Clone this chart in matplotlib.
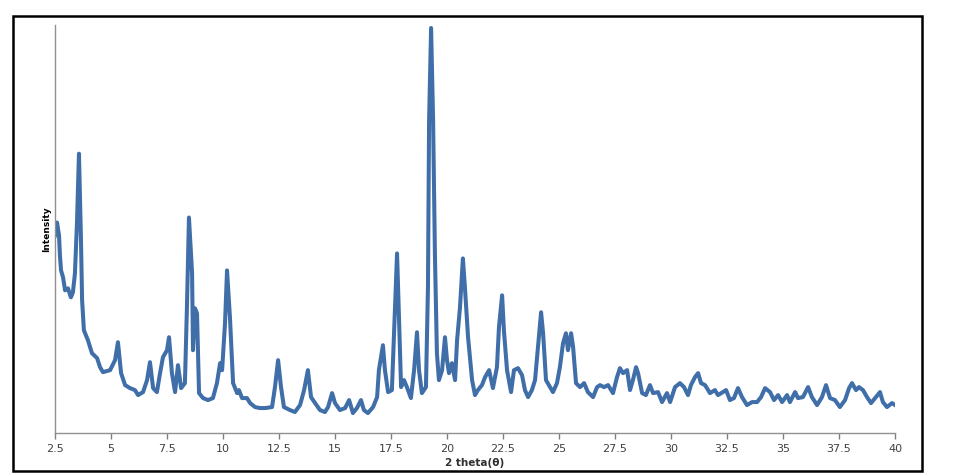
import numpy as np
import matplotlib.pyplot as plt
from matplotlib.patches import Rectangle

two_theta = [2.50, 2.59, 2.68, 2.72, 2.77, 2.86, 2.95, 3.08, 3.21, 3.30, 3.39, 3.48, 3.57, 3.66, 3.71,
             3.79, 3.97, 4.15, 4.38, 4.51, 4.64, 4.96, 5.18, 5.31, 5.45, 5.63, 5.85, 6.07, 6.21, 6.43,
             6.61, 6.74, 6.88, 7.05, 7.19, 7.32, 7.50, 7.59, 7.72, 7.86, 7.99, 8.13, 8.30, 8.39, 8.48,
             8.62, 8.66, 8.75, 8.84, 8.93, 9.11, 9.33, 9.55, 9.73, 9.87, 9.96, 10.09, 10.18, 10.31,
             10.45, 10.63, 10.71, 10.85, 11.07, 11.21, 11.43, 11.65, 11.88, 12.19, 12.32, 12.46, 12.59,
             12.72, 12.99, 13.21, 13.44, 13.62, 13.79, 13.93, 14.11, 14.33, 14.55, 14.69, 14.87, 15.00,
             15.22, 15.45, 15.63, 15.80, 15.98, 16.16, 16.29, 16.47, 16.70, 16.88, 16.96, 17.14, 17.23,
             17.37, 17.54, 17.63, 17.77, 17.86, 17.95, 18.08, 18.21, 18.39, 18.53, 18.66, 18.75, 18.88,
             19.06, 19.15, 19.20, 19.29, 19.38, 19.46, 19.55, 19.64, 19.78, 19.91, 20.00, 20.09, 20.22,
             20.36, 20.45, 20.58, 20.71, 20.80, 20.94, 21.12, 21.25, 21.38, 21.56, 21.70, 21.88, 22.05,
             22.23, 22.32, 22.46, 22.54, 22.68, 22.86, 22.99, 23.17, 23.35, 23.48, 23.62, 23.79, 23.93,
             24.06, 24.20, 24.29, 24.42, 24.60, 24.73, 24.91, 25.04, 25.18, 25.31, 25.40, 25.54, 25.63,
             25.76, 25.94, 26.12, 26.29, 26.52, 26.70, 26.83, 27.01, 27.19, 27.41, 27.59, 27.72, 27.86,
             28.04, 28.17, 28.30, 28.44, 28.53, 28.71, 28.88, 29.06, 29.20, 29.42, 29.60, 29.82, 29.96,
             30.18, 30.40, 30.58, 30.76, 30.89, 31.07, 31.21, 31.34, 31.52, 31.74, 31.96, 32.10, 32.32,
             32.46, 32.63, 32.81, 32.99, 33.17, 33.39, 33.62, 33.84, 34.02, 34.20, 34.42, 34.60, 34.78,
             34.96, 35.18, 35.31, 35.54, 35.67, 35.89, 36.12, 36.29, 36.52, 36.74, 36.92, 37.10, 37.32,
             37.54, 37.77, 37.95, 38.08, 38.26, 38.39, 38.57, 38.75, 38.93, 39.11, 39.33, 39.46, 39.64,
             39.87, 40.00]
intensity = [1980, 2110, 1980, 1780, 1630, 1560, 1430, 1450, 1360, 1410, 1600, 2100, 2800, 1930, 1330,
             1030, 930, 800, 750, 660, 610, 630, 730, 910, 600, 480, 450, 430, 380, 410,
             530, 710, 450, 410, 600, 760, 830, 960, 600, 410, 680, 450, 500, 1260, 2160,
             1600, 830, 1250, 1200, 400, 350, 330, 350, 500, 700, 630, 1100, 1630, 1160,
             500, 400, 430, 350, 350, 300, 260, 250, 250, 260, 460, 730, 460,
             260, 230, 210, 280, 430, 630, 360, 300, 230, 210, 260, 400, 300,
             230, 250, 330, 200, 250, 330, 230, 200, 260, 360, 630, 880, 630,
             410, 430, 960, 1800, 1130, 460, 530, 460, 350, 630, 1010, 630, 400,
             460, 1460, 3130, 4060, 3130, 1800, 800, 530, 630, 960, 730, 600, 700,
             530, 930, 1260, 1750, 1460, 960, 530, 380, 430, 480, 560, 630, 450,
             660, 1060, 1380, 1030, 630, 410, 630, 650, 580, 430, 360, 430, 530,
             860, 1210, 1000, 530, 460, 410, 500, 660, 900, 1000, 830, 1000, 860,
             500, 460, 500, 410, 360, 460, 480, 460, 480, 400, 560, 650, 600,
             630, 430, 530, 660, 600, 400, 380, 480, 400, 410, 310, 400, 310,
             460, 500, 460, 380, 480, 560, 600, 500, 480, 400, 430, 380, 410,
             430, 330, 350, 450, 360, 280, 310, 310, 360, 450, 410, 330, 380,
             310, 380, 310, 410, 350, 360, 460, 360, 280, 360, 480, 350, 330,
             260, 330, 450, 500, 430, 460, 430, 360, 300, 350, 410, 310, 260,
             300, 280]
x_ticks = [2.5, 5, 7.5, 10, 12.5, 15, 17.5, 20, 22.5, 25, 27.5, 30, 32.5, 35, 37.5, 40]

fig = plt.figure(figsize=(9.6, 4.76), dpi=100)
ax = fig.add_axes([55 / 960, 43 / 476, 840 / 960, 408 / 476])

# outer chart frame
fig.patches.append(Rectangle((13 / 960, 5 / 476), 909 / 960, 455 / 476, transform=fig.transFigure,
                             fill=False, edgecolor='black', linewidth=1.8))

ax.plot(two_theta, intensity, color='#3F6EA8', linewidth=2.9, solid_joinstyle='round')

ax.set_xlim(2.5, 40)
ax.set_ylim(0, 4090)
ax.set_xticks(x_ticks)
ax.set_xticklabels([f"{t:g}" for t in x_ticks])
ax.set_yticks([])
ax.tick_params(axis='x', direction='out', length=4, width=1, color='#808080',
               labelsize=8, labelcolor='#404040', pad=4)

for s in ['top', 'right']:
    ax.spines[s].set_visible(False)
for s in ['left', 'bottom']:
    ax.spines[s].set_color('#909090')
    ax.spines[s].set_linewidth(1)

ax.set_xlabel("2 theta(θ)", fontsize=7.5, fontweight='bold', color='#303030', labelpad=3)
ax.set_ylabel("Intensity", fontsize=6.5, fontweight='bold', color='black', labelpad=3)

fig.savefig("out.png", dpi=100)
